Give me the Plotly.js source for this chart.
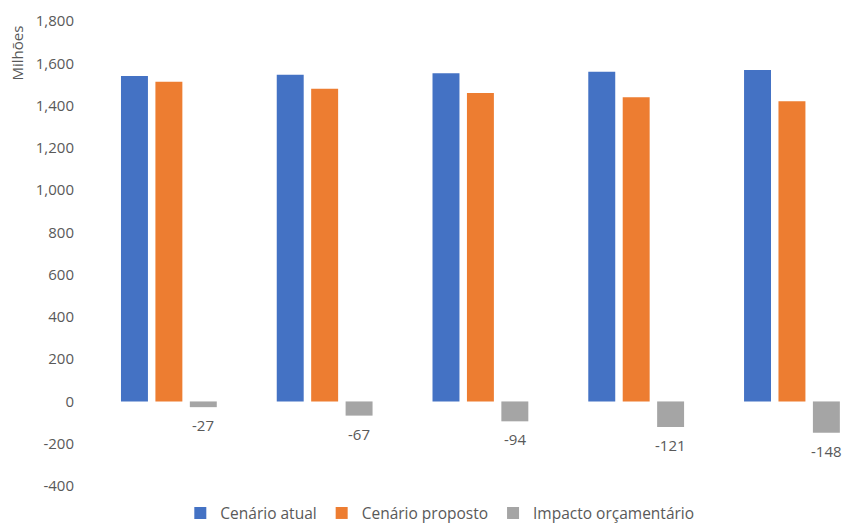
<!DOCTYPE html>
<html>
<head>
<meta charset="utf-8">
<script src="https://cdn.plot.ly/plotly-3.0.1.min.js"></script>
<style>html,body{margin:0;padding:0;background:#fff;}#chart{width:846px;height:526px;}</style>
</head>
<body>
<div id="chart"></div>
<script>
var categories = ["Ano 1", "Ano 2", "Ano 3", "Ano 4", "Ano 5"];
var cenarioAtual = [1540, 1546, 1553, 1560, 1568];
var cenarioProposto = [1513, 1479, 1459, 1439, 1420];
var impacto = [-27, -67, -94, -121, -148];
var seriesNames = ["Cenário atual", "Cenário proposto", "Impacto orçamentário"];
var yTicks = [-400, -200, 0, 200, 400, 600, 800, 1000, 1200, 1400, 1600, 1800];
var yTickText = yTicks.map(function (v) { return v.toLocaleString("en-US"); });

var txtColor = "#595959";
var fontFam = "'Open Sans', 'Noto Sans', sans-serif";

var traces = [
  {type: "bar", x: categories, y: cenarioAtual, name: seriesNames[0], marker: {color: "#4472C4"}, hoverinfo: "y"},
  {type: "bar", x: categories, y: cenarioProposto, name: seriesNames[1], marker: {color: "#ED7D31"}, hoverinfo: "y"},
  {type: "bar", x: categories, y: impacto, name: seriesNames[2], marker: {color: "#A5A5A5"}, hoverinfo: "y"}
];

var annotations = impacto.map(function (v, i) {
  return {
    x: categories[i], y: v, xref: "x", yref: "y",
    text: String(v), showarrow: false,
    xshift: 34.5, yshift: -6, yanchor: "top", xanchor: "center",
    font: {family: fontFam, size: 15, color: txtColor}
  };
});
annotations.push({
  xref: "paper", yref: "paper", x: -0.0974, y: 0.931,
  text: "Milhões", showarrow: false, textangle: -90,
  xanchor: "center", yanchor: "middle",
  font: {family: fontFam, size: 15, color: txtColor}
});

var layout = {
  width: 846, height: 526,
  margin: {l: 91, r: 0, t: 21, b: 40, pad: 0, autoexpand: false},
  paper_bgcolor: "#fff", plot_bgcolor: "#fff",
  barmode: "group", bargap: 0.337, bargroupgap: 0.217,
  font: {family: fontFam, size: 15, color: txtColor},
  xaxis: {
    type: "category", range: [-0.5, 4.347], autorange: false,
    showticklabels: false, showgrid: false, zeroline: false, showline: false, ticks: ""
  },
  yaxis: {
    range: [-400, 1800], autorange: false,
    tickmode: "array", tickvals: yTicks, ticktext: yTickText,
    showgrid: false, zeroline: false, showline: false, ticks: "",
    ticklabelstandoff: 16,
    tickfont: {family: fontFam, size: 15, color: txtColor}
  },
  showlegend: true,
  legend: {
    orientation: "h", xref: "paper", yref: "container",
    x: 0.462, xanchor: "center", y: 0.024, yanchor: "middle",
    font: {family: fontFam, size: 15.5, color: txtColor},
    itemwidth: 30, traceorder: "normal"
  },
  annotations: annotations
};

Plotly.newPlot("chart", traces, layout, {displayModeBar: false, staticPlot: true});
</script>
</body>
</html>
